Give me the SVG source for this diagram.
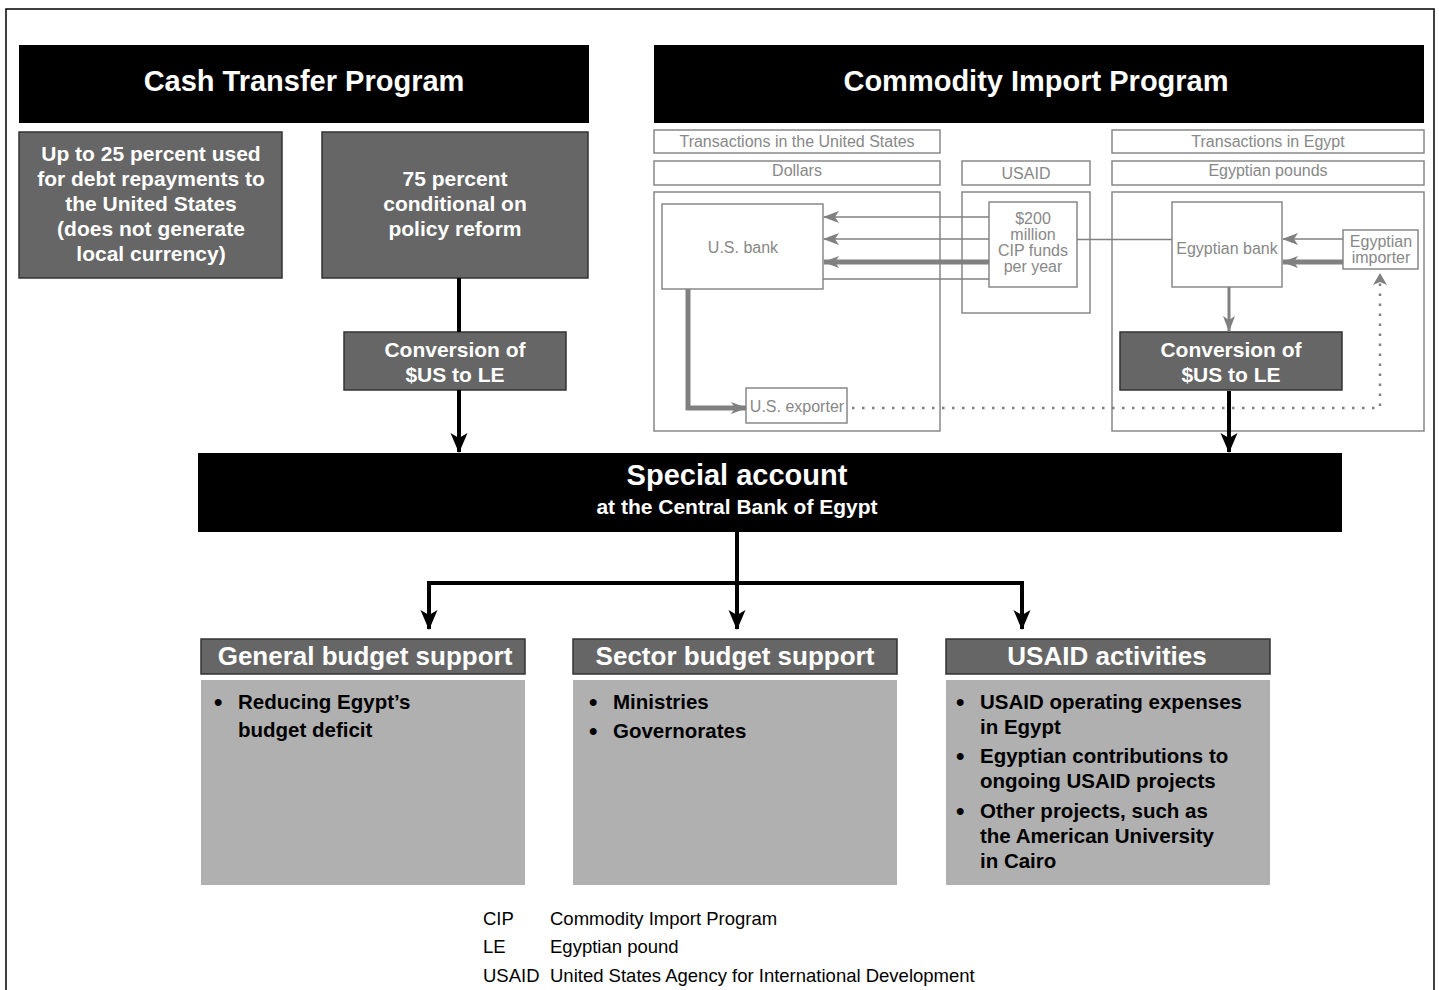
<svg xmlns="http://www.w3.org/2000/svg" width="1439" height="990" viewBox="0 0 1439 990">
<style>
.bk{fill:#000}
.dk{fill:#666;stroke:#333;stroke-width:1.5}
.lt{fill:#b0b0b0}
.gb{fill:#fff;stroke:#888;stroke-width:1.5}
.wt{font-family:"Liberation Sans",Arial,sans-serif;font-weight:bold;fill:#fff;text-anchor:middle}
.gt{font-family:"Liberation Sans",Arial,sans-serif;fill:#888;text-anchor:middle;font-size:16px}
.bt{font-family:"Liberation Sans",Arial,sans-serif;font-weight:bold;fill:#000;font-size:20.5px}
.bu{font-size:24px}
.lg{font-family:"Liberation Sans",Arial,sans-serif;fill:#000;font-size:18.5px}
.bl{stroke:#000;stroke-width:4;fill:none}
.gl{stroke:#808080;stroke-width:1.5;fill:none}
.gT{stroke:#808080;stroke-width:5;fill:none}
.gM{stroke:#808080;stroke-width:3;fill:none}
.dot{stroke:#808080;stroke-width:2.5;fill:none;stroke-dasharray:2.5 7.5}
</style>
<defs>
<marker id="ab" markerUnits="userSpaceOnUse" markerWidth="20" markerHeight="20" viewBox="0 0 20 20" refX="19" refY="10" orient="auto">
<path d="M0,1.5 L20,10 L0,18.5 L5,10 Z" fill="#000"/>
</marker>
<marker id="ag" markerUnits="userSpaceOnUse" markerWidth="16" markerHeight="14" viewBox="0 0 16 14" refX="15" refY="7" orient="auto">
<path d="M0,1 L16,7 L0,13 L4,7 Z" fill="#808080"/>
</marker>
</defs>
<rect x="6" y="9" width="1428" height="1000" fill="#fff" stroke="#000" stroke-width="1.5"/>

<g id="cash-header"><rect class="bk" x="19" y="45" width="570" height="78"/><text class="wt" x="304" y="91" font-size="29">Cash Transfer Program</text></g>
<g id="cip-header"><rect class="bk" x="654" y="45" width="770" height="78"/><text class="wt" x="1036" y="91" font-size="29">Commodity Import Program</text></g>

<g id="debt"><rect class="dk" x="19" y="132" width="263" height="146"/>
<text class="wt" font-size="21"><tspan x="151" y="161">Up to 25 percent used</tspan><tspan x="151" y="186">for debt repayments to</tspan><tspan x="151" y="211">the United States</tspan><tspan x="151" y="236">(does not generate</tspan><tspan x="151" y="261">local currency)</tspan></text></g>
<g id="reform"><rect class="dk" x="322" y="132" width="266" height="146"/>
<text class="wt" font-size="21"><tspan x="455" y="186">75 percent</tspan><tspan x="455" y="211">conditional on</tspan><tspan x="455" y="236">policy reform</tspan></text></g>
<g id="conv1"><rect class="dk" x="344" y="332" width="222" height="58"/>
<text class="wt" font-size="21"><tspan x="455" y="357">Conversion of</tspan><tspan x="455" y="382">$US to LE</tspan></text></g>

<g id="us-side">
<rect class="gb" x="654" y="130" width="286" height="23"/><text class="gt" x="797" y="147">Transactions in the United States</text>
<rect class="gb" x="654" y="161" width="286" height="24"/><text class="gt" x="797" y="176">Dollars</text>
<rect class="gb" x="654" y="192" width="286" height="239"/>
</g>
<g id="usaid-col">
<rect class="gb" x="962" y="161" width="128" height="24"/><text class="gt" x="1026" y="179" font-size="17">USAID</text>
<rect class="gb" x="962" y="192" width="128" height="121"/>
</g>
<g id="eg-side">
<rect class="gb" x="1112" y="130" width="312" height="23"/><text class="gt" x="1268" y="147">Transactions in Egypt</text>
<rect class="gb" x="1112" y="161" width="312" height="24"/><text class="gt" x="1268" y="176">Egyptian pounds</text>
<rect class="gb" x="1112" y="192" width="312" height="239"/>
</g>
<g id="us-bank"><rect class="gb" x="662" y="204" width="161" height="85"/><text class="gt" x="743" y="253">U.S. bank</text></g>
<g id="cip-funds"><rect class="gb" x="989" y="202" width="88" height="85"/>
<text class="gt"><tspan x="1033" y="224">$200</tspan><tspan x="1033" y="240">million</tspan><tspan x="1033" y="256">CIP funds</tspan><tspan x="1033" y="272">per year</tspan></text></g>
<g id="us-exporter"><rect class="gb" x="746" y="388" width="101" height="35"/><text class="gt" x="797" y="412">U.S. exporter</text></g>
<g id="eg-bank"><rect class="gb" x="1172" y="202" width="110" height="85"/><text class="gt" x="1227" y="254">Egyptian bank</text></g>
<g id="eg-importer"><rect class="gb" x="1343" y="230" width="75" height="39"/>
<text class="gt"><tspan x="1381" y="247">Egyptian</tspan><tspan x="1381" y="263">importer</tspan></text></g>
<g id="conv2"><rect class="dk" x="1120" y="332" width="222" height="58"/>
<text class="wt" font-size="21"><tspan x="1231" y="357">Conversion of</tspan><tspan x="1231" y="382">$US to LE</tspan></text></g>

<g id="special"><rect class="bk" x="198" y="453" width="1144" height="79"/>
<text class="wt" x="737" y="485" font-size="29">Special account</text>
<text class="wt" x="737" y="514" font-size="21">at the Central Bank of Egypt</text></g>

<g id="general"><rect class="dk" x="201" y="639" width="324" height="35"/><text class="wt" x="365" y="665" font-size="26">General budget support</text>
<rect class="lt" x="201" y="680" width="324" height="205"/>
<text class="bt"><tspan class="bu" x="214" y="710">•</tspan><tspan x="238" y="709">Reducing Egypt’s</tspan><tspan x="238" y="737">budget deficit</tspan></text></g>
<g id="sector"><rect class="dk" x="573" y="639" width="324" height="35"/><text class="wt" x="735" y="665" font-size="26">Sector budget support</text>
<rect class="lt" x="573" y="680" width="324" height="205"/>
<text class="bt"><tspan class="bu" x="589" y="710">•</tspan><tspan x="613" y="709">Ministries</tspan><tspan class="bu" x="589" y="739">•</tspan><tspan x="613" y="738">Governorates</tspan></text></g>
<g id="usaid-act"><rect class="dk" x="946" y="639" width="324" height="35"/><text class="wt" x="1107" y="665" font-size="26">USAID activities</text>
<rect class="lt" x="946" y="680" width="324" height="205"/>
<text class="bt"><tspan class="bu" x="956" y="710">•</tspan><tspan x="980" y="709">USAID operating expenses</tspan><tspan x="980" y="734">in Egypt</tspan><tspan class="bu" x="956" y="764">•</tspan><tspan x="980" y="763">Egyptian contributions to</tspan><tspan x="980" y="788">ongoing USAID projects</tspan><tspan class="bu" x="956" y="819">•</tspan><tspan x="980" y="818">Other projects, such as</tspan><tspan x="980" y="843">the American University</tspan><tspan x="980" y="868">in Cairo</tspan></text></g>

<g id="legend">
<text class="lg" x="483" y="925">CIP</text><text class="lg" x="550" y="925">Commodity Import Program</text>
<text class="lg" x="483" y="953">LE</text><text class="lg" x="550" y="953">Egyptian pound</text>
<text class="lg" x="483" y="982">USAID</text><text class="lg" x="550" y="982">United States Agency for International Development</text>
</g>

<g id="connectors">
<path class="gl" d="M989,217 H824" marker-end="url(#ag)"/>
<path class="gl" d="M989,239 H824" marker-end="url(#ag)"/>
<path class="gT" d="M989,262 H824" marker-end="url(#ag)"/>
<path class="gl" d="M823,279 H989"/>
<path class="gl" d="M1077,239.5 H1172"/>
<path class="gl" d="M1343,239 H1283" marker-end="url(#ag)"/>
<path class="gT" d="M1343,262 H1283" marker-end="url(#ag)"/>
<path class="gM" d="M1229,287 V331" marker-end="url(#ag)"/>
<path class="gT" d="M688,289 V408 H746" marker-end="url(#ag)"/>
<path class="dot" d="M852,408 H1380 V283"/>
<path d="M1373,285 L1380,273 L1387,285 L1380,282 Z" fill="#808080"/>
<path class="bl" d="M459,278 V332"/>
<path class="bl" d="M459,390 V452" marker-end="url(#ab)"/>
<path class="bl" d="M1229,391 V452" marker-end="url(#ab)"/>
<path class="bl" d="M737,532 V583"/>
<path class="bl" d="M429,629 V583 H1022 V629" marker-end="url(#ab)"/>
<path class="bl" d="M429,583 V629" marker-end="url(#ab)"/>
<path class="bl" d="M737,583 V629" marker-end="url(#ab)"/>
</g>
</svg>
